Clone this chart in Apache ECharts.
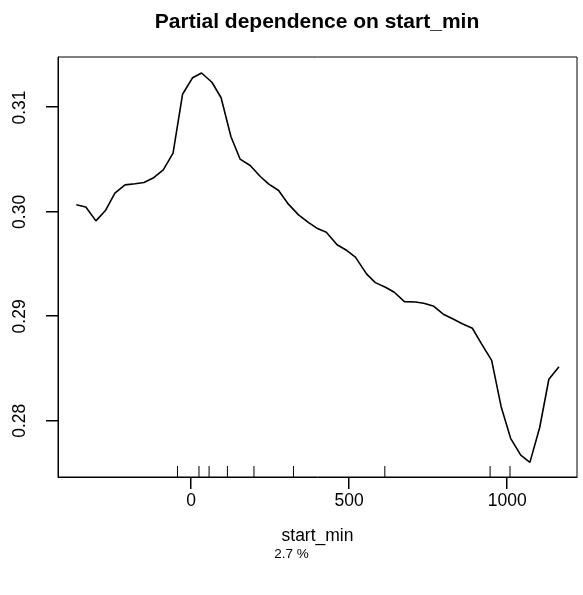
<!DOCTYPE html>
<html><head><meta charset="utf-8">
<script src="https://cdn.jsdelivr.net/npm/echarts@6/dist/echarts.min.js"></script>
<style>html,body{margin:0;padding:0;background:#fff}#c{width:583px;height:595px}</style>
</head><body><div id="c"></div>
<script>
const startMin = [-363,-333,-301,-271,-241,-209,-177,-149,-120,-88,-57,-27,5,33,66,95,126,155,187,219,245,277,308,340,372,398,428,462,493,520,555,583,615,643,675,710,736,766,798,829,858,890,919,951,981,1011,1043,1072,1103,1132,1164];
const partialDep = [0.30068,0.30046,0.29914,0.30013,0.30180,0.30259,0.30269,0.30281,0.30324,0.30403,0.30563,0.31126,0.31285,0.31330,0.31241,0.31093,0.30722,0.30506,0.30444,0.30339,0.30269,0.30205,0.30074,0.29972,0.29898,0.29844,0.29806,0.29685,0.29630,0.29567,0.29407,0.29323,0.29279,0.29231,0.29141,0.29138,0.29126,0.29100,0.29021,0.28975,0.28930,0.28886,0.28736,0.28578,0.28135,0.27832,0.27672,0.27602,0.27936,0.28398,0.28518];
const rugValues = [-43,25,57,115,199,324,613,946,1009];
const xTicks = [0,500,1000];
const yTicks = [0.28,0.29,0.30,0.31];
const titleText = 'Partial dependence on start_min';
const xName = 'start_min';
const subText = '2.7 %';

const X_MIN = -421, X_MAX = 1221, Y_MIN = 0.27462, Y_MAX = 0.31483;
const font = 'Liberation Sans, Arial, sans-serif';
const chart = echarts.init(document.getElementById('c'), null, {renderer:'canvas'});
chart.setOption({
  animation:false,
  backgroundColor:'#fff',
  title:{text:titleText,left:317,top:12,padding:0,textAlign:'center',
    textStyle:{fontFamily:font,fontWeight:'bold',fontSize:21,color:'#000'}},
  grid:{left:58,top:57,right:6,bottom:118,show:true,borderColor:'#000',borderWidth:1,backgroundColor:'transparent'},
  xAxis:{type:'value',min:X_MIN,max:X_MAX,
    name:xName,nameLocation:'middle',nameGap:50,
    nameTextStyle:{fontFamily:font,fontSize:17.5,color:'#000'},
    axisLine:{show:true,onZero:false,lineStyle:{color:'#000',width:1}},
    axisTick:{show:false},
    axisLabel:{show:true,margin:15,fontFamily:font,fontSize:17.5,color:'#000',customValues:xTicks,
      formatter:v=>String(v)},
    splitLine:{show:false}},
  yAxis:{type:'value',min:Y_MIN,max:Y_MAX,
    axisLine:{show:true,onZero:false,lineStyle:{color:'#000',width:1}},
    axisTick:{show:false},
    axisLabel:{show:true,rotate:90,margin:29,fontFamily:font,fontSize:17.5,color:'#000',customValues:yTicks,
      formatter:v=>v.toFixed(2)},
    splitLine:{show:false}},
  series:[
    {type:'line',data:startMin.map((x,i)=>[x,partialDep[i]]),showSymbol:false,symbol:'none',
      lineStyle:{color:'#000',width:1.6},z:3},
    {type:'custom',data:rugValues.map(v=>[v]),z:2,clip:false,
      renderItem:(params,api)=>{
        const p=api.coord([api.value(0),Y_MIN]);
        return {type:'line',shape:{x1:p[0],y1:p[1],x2:p[0],y2:p[1]-11},style:{stroke:'#000',lineWidth:1}};
      }}
  ]
});
const g = [];
xTicks.forEach(v=>{
  const p = chart.convertToPixel({gridIndex:0},[v,Y_MIN]);
  const x = Math.round(p[0]) - 1;
  g.push({type:'rect',shape:{x:x,y:Math.round(p[1]),width:1.5,height:12},style:{fill:'#000'},z:10,silent:true});
});
yTicks.forEach(v=>{
  const p = chart.convertToPixel({gridIndex:0},[X_MIN,v]);
  const y = Math.round(p[1]) - 1;
  g.push({type:'rect',shape:{x:Math.round(p[0])-12,y:y,width:12,height:1.5},style:{fill:'#000'},z:10,silent:true});
});
g.push({type:'text',left:'center',top:547,style:{text:subText,font:'13.5px '+font,fill:'#000'}});
chart.setOption({graphic:g});
</script></body></html>
